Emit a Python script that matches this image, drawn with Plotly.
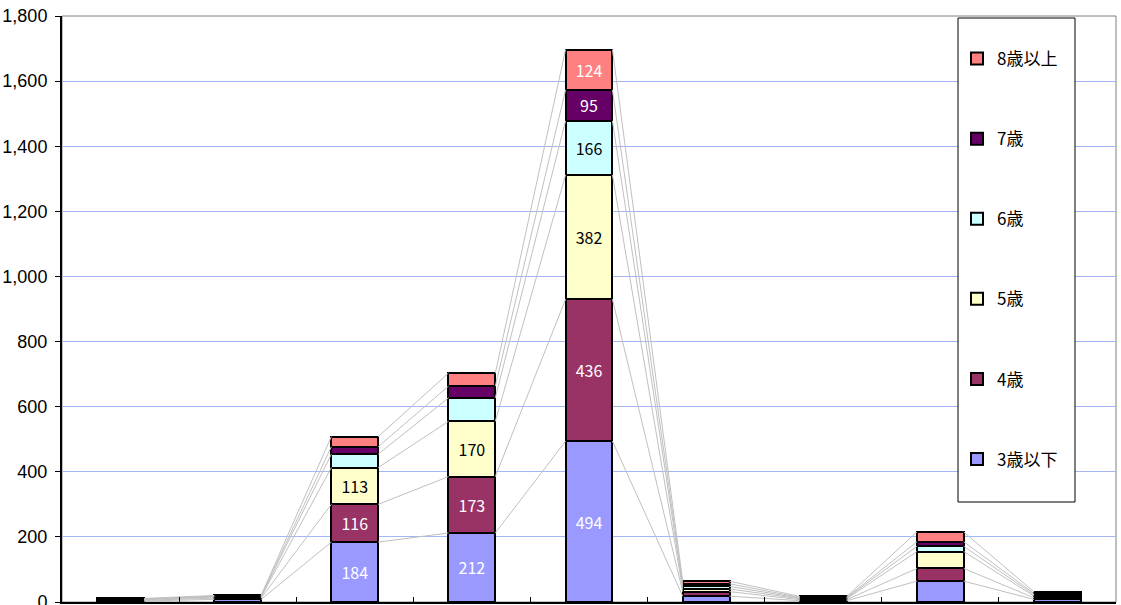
import plotly.graph_objects as go
import numpy as np

# 9 categories (x labels are cut off in the reference)
categories = list(range(9))

series_names = ["3歳以下", "4歳", "5歳", "6歳", "7歳", "8歳以上"]
age3_under = [3, 8, 184, 212, 494, 18, 4, 64, 8]
age4 = [2, 4, 116, 173, 436, 14, 3, 39, 5]
age5 = [2, 3, 113, 170, 382, 8, 3, 52, 5]
age6 = [1, 2, 41, 72, 166, 8, 2, 16, 4]
age7 = [1, 1, 23, 36, 95, 8, 2, 14, 4]
age8_over = [2, 2, 31, 40, 124, 8, 3, 30, 5]

colors = ["#9999FF", "#993366", "#FFFFCC", "#CCFFFF", "#660066", "#FF8080"]
label_colors = ["white", "white", "black", "black", "white", "white"]

values = [age3_under, age4, age5, age6, age7, age8_over]
bar_w = 0.4

fig = go.Figure()

# Excel-style series lines joining segment tops of adjacent bars
cum = np.cumsum(np.array(values), axis=0)
lx, ly = [], []
for k in range(cum.shape[0]):
    for i in range(len(categories) - 1):
        lx += [categories[i] + bar_w / 2, categories[i + 1] - bar_w / 2, None]
        ly += [cum[k][i], cum[k][i + 1], None]
fig.add_trace(go.Scatter(x=lx, y=ly, mode="lines", line=dict(color="#c0c0c0", width=1),
                         showlegend=False, hoverinfo="skip"))

n = len(series_names)
for idx, (name, vals, c, lc) in enumerate(zip(series_names, values, colors, label_colors)):
    fig.add_trace(go.Bar(
        x=categories, y=vals, name=name, width=bar_w,
        marker=dict(color=c, line=dict(color="black", width=2)),
        text=[str(v) if v >= 90 else "" for v in vals],
        textposition="inside", insidetextanchor="middle", textangle=0,
        textfont=dict(color=lc, size=16, family="Noto Sans CJK JP"),
        constraintext="none", legendgroup=name, legendrank=n - idx,
    ))

# figure fills the page (body margin removed in post_script)
W, H = 1121, 605
L, R, T, B = 62, 5, 16, 3
pw, ph = W - L - R, H - T - B


def px_x(x):
    return (x - L) / pw


def px_y(y):
    return (H - B - y) / ph


fig.update_layout(
    width=W, height=H,
    barmode="stack",
    plot_bgcolor="white", paper_bgcolor="white",
    margin=dict(l=L, r=R, t=T, b=B, autoexpand=False),
    font=dict(family="Liberation Sans, Arial, sans-serif", size=18, color="black"),
    showlegend=True,
    legend=dict(
        x=px_x(957), xanchor="left", y=px_y(41), yanchor="top",
        traceorder="grouped", tracegroupgap=55,
        font=dict(family="Noto Sans CJK JP", size=17, color="black"),
        bgcolor="rgba(0,0,0,0)",
    ),
    shapes=[
        dict(type="rect", xref="paper", yref="paper", x0=0, x1=1, y0=0, y1=1,
             line=dict(color="#808080", width=1), layer="below"),
        dict(type="rect", xref="paper", yref="paper",
             x0=px_x(958), x1=px_x(1075), y0=px_y(502), y1=px_y(18),
             line=dict(color="black", width=1), fillcolor="white", layer="above"),
    ],
)

fig.update_xaxes(
    range=[-0.5, 8.5], showgrid=False, zeroline=False,
    tickvals=[i + 0.5 for i in categories[:-1]], showticklabels=False,
    ticks="inside", ticklen=5, tickcolor="black",
    showline=True, linecolor="black", linewidth=2, automargin=False,
)
fig.update_yaxes(
    range=[0, 1800], dtick=200, tickformat=",d",
    showgrid=True, gridcolor="#a3b5f5", gridwidth=1, zeroline=False,
    ticks="outside", ticklen=5, tickcolor="black", ticklabelstandoff=4,
    ticklabeloverflow="allow", automargin=False,
    showline=True, linecolor="black", linewidth=2,
)

fig.write_html("out.html", config={"displayModeBar": False},
               post_script="document.body.style.margin='0px';")
